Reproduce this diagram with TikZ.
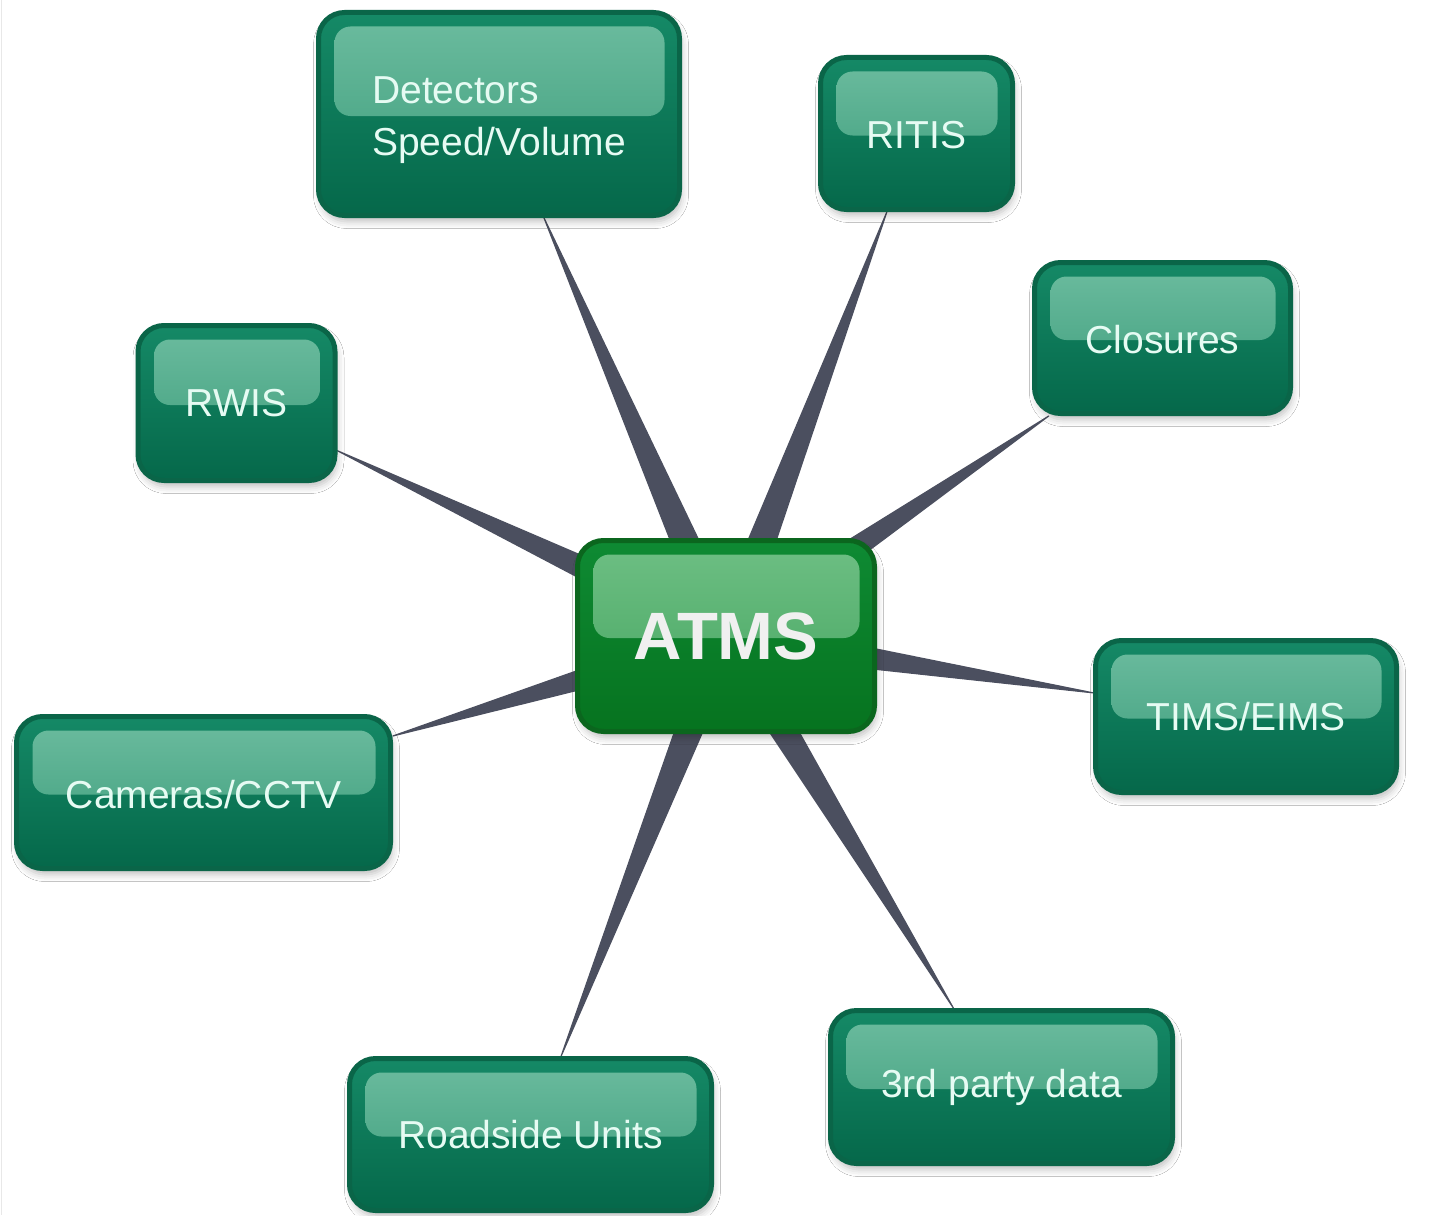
\documentclass[tikz,border=0pt]{standalone}
\usepackage{fontspec}
\setmainfont{Liberation Sans}
\usetikzlibrary{calc,backgrounds,shadows.blur}

\definecolor{boxedge}{HTML}{0A6548}
\definecolor{boxtop}{HTML}{158966}
\definecolor{boxbot}{HTML}{05684A}
\definecolor{hltop}{HTML}{6CBC9F}
\definecolor{hlbot}{HTML}{3A9B79}
\definecolor{boxtext}{HTML}{E6FBF3}
\definecolor{hubedge}{HTML}{0B661E}
\definecolor{hubtop}{HTML}{0E8A33}
\definecolor{hubbot}{HTML}{06731F}
\definecolor{hubhltop}{HTML}{6EBF84}
\definecolor{hubhlbot}{HTML}{43A45E}
\definecolor{spokecol}{HTML}{4B4F5F}

\tikzset{
  glossy/.style 2 args={
    path picture={
      \shade[top color=#1, bottom color=#2, rounded corners=16pt]
        ([shift={(16pt,-14pt)}]path picture bounding box.north west)
        rectangle ([shift={(-15pt,-2pt)}]path picture bounding box.east);
    }
  },
  box/.style={
    draw=boxedge, line width=5pt, rounded corners=26pt,
    top color=boxtop, bottom color=boxbot,
    glossy={hltop}{hlbot},
    blur shadow={shadow xshift=2pt, shadow yshift=-6pt,
                 shadow blur radius=7pt, shadow opacity=25},
    text=boxtext, font=\fontsize{39}{52}\selectfont,
    align=center, inner sep=0pt
  },
  hub/.style={
    box, draw=hubedge, top color=hubtop, bottom color=hubbot,
    glossy={hubhltop}{hubhlbot},
    text=white!94!black, font=\fontsize{67}{70}\selectfont\bfseries
  },
  spoke/.style={fill=spokecol, draw=spokecol, line width=1.2pt, line join=round}
}

% lowers a label a little inside its box
\newcommand\lowered[2][2pt]{\raisebox{-#1}[\height][\depth]{#2}}

% tapered wedge from the hub centre to the border of an outer box
\newcommand\wedgeto[1]{%
  \path (atms.center) -- (#1) coordinate[pos=1] (#1-tip);
  \filldraw[spoke] ($(atms.center)!17pt!90:(#1-tip)$) -- (#1-tip)
    -- ($(atms.center)!17pt!-90:(#1-tip)$) -- cycle;
}

\begin{document}
\begin{tikzpicture}[x=1pt, y=-1pt]
  \useasboundingbox (0,0) rectangle (1437,1215);

  \node[hub, minimum width=297pt, minimum height=191pt] (atms) at (726,636) {ATMS};

  \node[box, minimum width=361pt, minimum height=203pt] (det) at (499,114)
    {\lowered[5pt]{\begin{tabular}{@{}l@{}}Detectors\\Speed/Volume\end{tabular}}};
  \node[box, minimum width=192pt, minimum height=152pt] (ritis) at (916.5,133.5) {\lowered{RITIS}};
  \node[box, minimum width=256pt, minimum height=151pt] (clos) at (1162.5,338) {\lowered{Closures}};
  \node[box, minimum width=197pt, minimum height=155pt] (rwis) at (236.5,403) {RWIS};
  \node[box, minimum width=301pt, minimum height=152pt] (tims) at (1246,716.5) {TIMS/EIMS};
  \node[box, minimum width=374pt, minimum height=152pt] (cams) at (203.5,792.5) {\lowered{Cameras/CCTV}};
  \node[box, minimum width=342pt, minimum height=153pt] (third) at (1001.5,1087) {3rd party data};
  \node[box, minimum width=362pt, minimum height=152pt] (rsu) at (530.5,1134.5) {Roadside Units};

  \begin{scope}[on background layer]
    \fill[white] (0,0) rectangle (1437,1215);
    \draw[line width=1.5pt, black!9] (1.5,0) -- (1.5,1215);
    \wedgeto{det}
    \wedgeto{ritis}
    \wedgeto{clos}
    \wedgeto{rwis}
    \wedgeto{tims}
    \wedgeto{cams}
    \wedgeto{third}
    \wedgeto{rsu}
  \end{scope}
\end{tikzpicture}
\end{document}
